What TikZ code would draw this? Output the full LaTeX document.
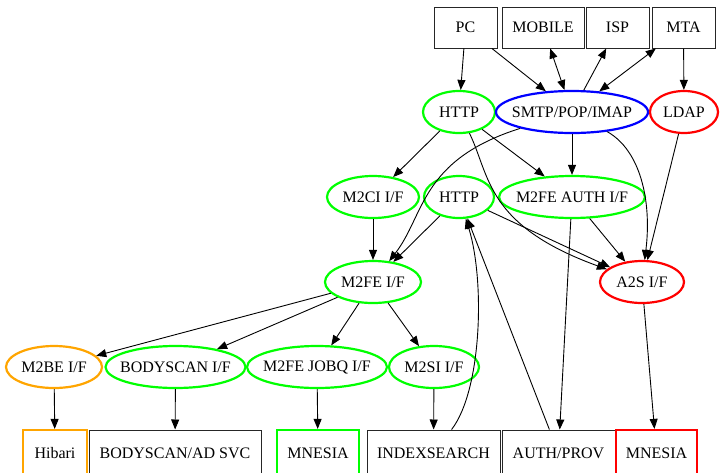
\documentclass[tikz,border=0pt]{standalone}
\usepackage{fontspec}
\setmainfont{Liberation Serif}
\usetikzlibrary{shapes.geometric,arrows.meta}
\definecolor{gvgreen}{HTML}{00FF00}
\definecolor{gvblue}{HTML}{0000FF}
\definecolor{gvred}{HTML}{FF0000}
\definecolor{gvorange}{HTML}{FFA500}
% label of zero width, so the oval keeps the size given to it
\newcommand{\lbl}[1]{\makebox[0pt]{#1}}
\begin{document}
\begin{tikzpicture}[x=1pt,y=-1pt,
  every node/.style={font=\fontsize{16}{19}\selectfont, inner sep=0pt},
  box/.style={rectangle, draw=black!85, line width=1pt, minimum height=41pt},
  lowbox/.style={rectangle, draw=black!85, line width=1pt, minimum height=46pt},
  oval/.style={ellipse, draw=gvgreen, line width=2.2pt, minimum height=42pt},
  edge/.style={line width=0.9pt, -{Triangle[length=10pt,width=8pt]}},
  biedge/.style={line width=0.9pt, {Triangle[length=10pt,width=8pt]}-{Triangle[length=10pt,width=8pt]}}]
\useasboundingbox (0,0) rectangle (720,472);
\clip (0,0) rectangle (720,472);

% clients
\node[box, minimum width=63pt] (pc) at (465.5,27.5) {PC};
\node[box, minimum width=82pt] (mobile) at (543,27.5) {MOBILE};
\node[box, minimum width=63pt] (isp) at (617.5,27.5) {ISP};
\node[box, minimum width=63pt] (mta) at (683.5,27.5) {MTA};

% front protocols
\node[oval, minimum width=72pt] (http) at (459,112) {\lbl{HTTP}};
\node[oval, draw=gvblue, minimum width=152pt] (smtp) at (572,112) {\lbl{SMTP/POP/IMAP}};
\node[oval, draw=gvred, minimum width=68pt] (ldap) at (684,112) {\lbl{LDAP}};

% interfaces
\node[oval, minimum width=92pt] (m2ci) at (373,197) {\lbl{M2CI I/F}};
\node[oval, minimum width=70pt] (http2) at (459,197) {\lbl{HTTP}};
\node[oval, minimum width=146pt] (m2feauth) at (572,197) {\lbl{M2FE AUTH I/F}};
\node[oval, minimum width=96pt] (m2fe) at (373,282) {\lbl{M2FE I/F}};
\node[oval, draw=gvred, minimum width=84pt] (a2s) at (642,282) {\lbl{A2S I/F}};

\node[oval, draw=gvorange, minimum width=96pt] (m2be) at (54,367) {\lbl{M2BE I/F}};
\node[oval, minimum width=140pt] (bodyscan) at (175.5,367) {\lbl{BODYSCAN I/F}};
\node[oval, minimum width=140pt] (jobq) at (317,367) {\lbl{M2FE JOBQ I/F}};
\node[oval, minimum width=90pt] (m2si) at (434,367) {\lbl{M2SI I/F}};

% back-end services (their lower edges run off the page)
\node[lowbox, draw=gvorange, line width=2.2pt, minimum width=64pt] (hibari) at (55,453) {Hibari};
\node[lowbox, minimum width=172pt] (bsvc) at (175,453) {BODYSCAN/AD SVC};
\node[lowbox, draw=gvgreen, line width=2.2pt, minimum width=82pt] (mnesiag) at (318,453) {MNESIA};
\node[lowbox, minimum width=133pt] (idx) at (433.5,453) {INDEXSEARCH};
\node[lowbox, minimum width=113pt] (auth) at (558.5,453) {AUTH/PROV};
\node[lowbox, draw=gvred, line width=2.2pt, minimum width=81pt] (mnesiar) at (656.5,453) {MNESIA};

% client links
\draw[edge] (pc) -- (http);
\draw[edge] (pc) -- (smtp);
\draw[biedge] (mobile) -- (smtp);
\draw[edge] (smtp) -- (isp);
\draw[biedge] (mta) -- (smtp);
\draw[edge] (mta) -- (ldap);

% protocol links
\draw[edge] (http) -- (m2ci);
\draw[edge] (http) -- (m2feauth);
\draw[edge] (http) .. controls (490,175) and (485,225) .. (a2s);
\draw[edge] (smtp) .. controls (420,160) and (425,215) .. (m2fe);
\draw[edge] (smtp) -- (m2feauth);
\draw[edge] (smtp) .. controls (640,150) and (652,200) .. (a2s);
\draw[edge] (ldap) -- (a2s);

\draw[edge] (m2ci) -- (m2fe);
\draw[edge] (http2) -- (m2fe);
\draw[edge] (http2) -- (a2s);
\draw[edge] (m2feauth) -- (a2s);
\draw[edge] (m2feauth) -- (auth);
\draw[edge] (a2s) -- (mnesiar);

\draw[edge] (m2fe) -- (m2be);
\draw[edge] (m2fe) -- (bodyscan);
\draw[edge] (m2fe) -- (jobq);
\draw[edge] (m2fe) -- (m2si);

\draw[edge] (m2be) -- (hibari);
\draw[edge] (bodyscan) -- (bsvc);
\draw[edge] (jobq) -- (mnesiag);
\draw[edge] (m2si) -- (idx);

\draw[edge] (idx) .. controls (482,390) and (485,280) .. (http2);
\draw[edge] (auth) -- (http2);
\end{tikzpicture}
\end{document}
